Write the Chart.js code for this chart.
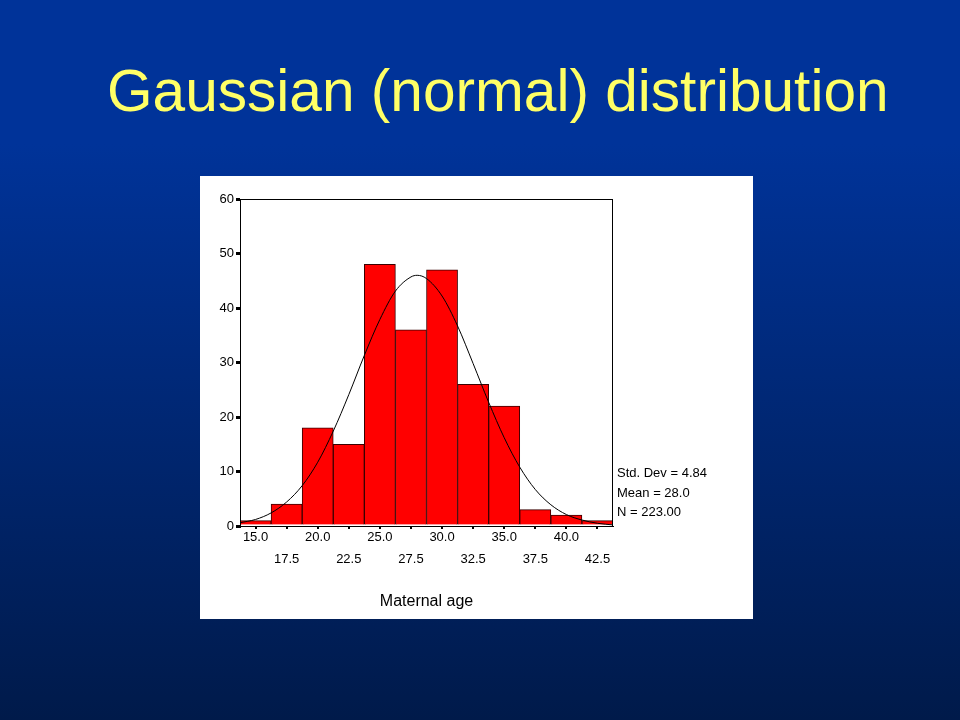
<!DOCTYPE html>
<html>
<head>
<meta charset="utf-8">
<script src="https://cdn.jsdelivr.net/npm/chart.js@4.4.1/dist/chart.umd.min.js"></script>
<style>
  html, body { margin: 0; padding: 0; }
  body {
    width: 960px; height: 720px; overflow: hidden; position: relative;
    background: linear-gradient(to bottom, #003399 0%, #003399 20%, #001a4a 100%);
    font-family: "Liberation Sans", Arial, sans-serif;
  }
  #title {
    position: absolute; left: 107px; top: 62px;
    font-size: 58.6px; line-height: 58px; color: #ffff66; white-space: nowrap;
  }
  #panel {
    position: absolute; left: 200px; top: 176px; width: 553px; height: 443px;
    background: #fff;
  }
</style>
</head>
<body>
<div id="title">Gaussian (normal) distribution</div>
<div id="panel"><canvas id="hist" width="553" height="443"></canvas></div>
<script>
// histogram bins (centres) and counts
var binCenters = [15.0, 17.5, 20.0, 22.5, 25.0, 27.5, 30.0, 32.5, 35.0, 37.5, 40.0, 42.5];
var tickLabels = ["15.0", "17.5", "20.0", "22.5", "25.0", "27.5", "30.0", "32.5", "35.0", "37.5", "40.0", "42.5"];
var counts = [1, 4, 18, 15, 48, 36, 47, 26, 22, 3, 2, 1];

// fitted curve, points
var curveX = [13.75, 15, 16.25, 17.5, 18.75, 20, 21.25, 22.5, 23.75, 25, 26.25, 27.5, 28,
              28.75, 30, 31.25, 32.5, 33.75, 35, 36.25, 37.5, 38.75, 40, 41.25, 42.5, 43.75];
var curveY = [0.6, 1.2, 2.4, 4.4, 7.4, 11.7, 17.4, 24.1, 31.3, 37.9, 43.1, 45.7, 46.0,
              45.4, 42.2, 36.7, 29.8, 22.7, 16.2, 10.8, 6.7, 3.9, 2.1, 1.1, 0.5, 0.2];

var statLines = ["Std. Dev = 4.84", "Mean = 28.0", "N = 223.00"];

var FONT = "'Liberation Sans', Arial, sans-serif";

var framePlugin = {
  id: "frame",
  afterDraw: function(chart){
    var a = chart.chartArea, ctx = chart.ctx;
    ctx.save();
    ctx.strokeStyle = "#000";
    ctx.lineWidth = 1;
    ctx.strokeRect(a.left + 0.5, a.top + 0.5, a.right - a.left - 1, a.bottom - a.top);
    // stats block to the right of the plot
    ctx.fillStyle = "#000";
    ctx.font = "13px " + FONT;
    ctx.textAlign = "left";
    ctx.textBaseline = "middle";
    var offs = [53, 33, 14];
    for (var i = 0; i < statLines.length; i++) {
      ctx.fillText(statLines[i], a.right + 4, a.bottom - offs[i]);
    }
    ctx.restore();
  }
};

var barData = binCenters.map(function(c, i){ return {x: c, y: counts[i]}; });
var lineData = curveX.map(function(c, i){ return {x: c, y: curveY[i]}; });

new Chart(document.getElementById("hist"), {
  type: "bar",
  data: {
    datasets: [
      {
        type: "line",
        data: lineData,
        borderColor: "#000",
        borderWidth: 1,
        pointRadius: 0,
        fill: false,
        cubicInterpolationMode: "monotone",
        order: 1
      },
      {
        type: "bar",
        data: barData,
        backgroundColor: "#ff0000",
        borderColor: "#3a0000",
        borderWidth: 1,
        barPercentage: 1,
        categoryPercentage: 1,
        order: 2
      }
    ]
  },
  options: {
    responsive: false,
    animation: false,
    layout: { padding: { left: 0, top: 23, right: 140, bottom: 8 } },
    plugins: { legend: { display: false }, tooltip: { enabled: false } },
    scales: {
      x: {
        type: "linear",
        min: 13.75,
        max: 43.75,
        offset: false,
        afterBuildTicks: function(scale){
          scale.ticks = binCenters.map(function(v){ return {value: v}; });
        },
        afterFit: function(scale){ scale.height = 85; },
        ticks: {
          autoSkip: false,
          maxRotation: 0,
          minRotation: 0,
          padding: 3,
          color: "#000",
          font: { family: FONT, size: 13, lineHeight: 0.85 },
          callback: function(v, i){
            return i % 2 === 0 ? tickLabels[i] : ["", "", tickLabels[i]];
          }
        },
        grid: { display: true, offset: false, drawOnChartArea: false, drawTicks: true, tickLength: 3, color: "#000", lineWidth: 2 },
        border: { display: true, color: "#000", width: 1 },
        title: {
          display: true,
          text: "Maternal age",
          color: "#000",
          font: { family: FONT, size: 16 },
          padding: { top: 0, bottom: 0 }
        }
      },
      y: {
        min: 0,
        max: 60,
        afterFit: function(scale){ scale.width = 40; },
        ticks: { stepSize: 10, padding: 2, color: "#000", font: { family: FONT, size: 13 } },
        grid: { display: true, drawOnChartArea: false, drawTicks: true, tickLength: 4, color: "#000", lineWidth: 3 },
        border: { display: true, color: "#000", width: 1 }
      }
    }
  },
  plugins: [framePlugin]
});
</script>
</body>
</html>
